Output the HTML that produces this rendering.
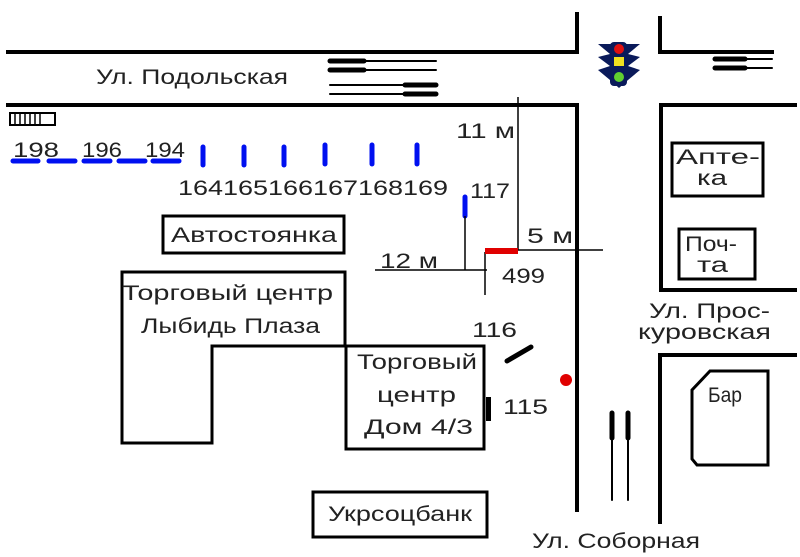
<!DOCTYPE html>
<html><head><meta charset="utf-8"><style>
html,body{margin:0;padding:0;background:#fff;}
svg{display:block;}
text{font-family:"Liberation Sans",sans-serif;fill:#222;font-size:21px;}
</style></head><body>
<svg width="800" height="557" viewBox="0 0 800 557" xmlns="http://www.w3.org/2000/svg">
<g stroke="#000" stroke-width="4" fill="none" stroke-linecap="square">
<polyline points="8,52 577,52 577,14"/>
<polyline points="660,18 660,52 772,52"/>
<polyline points="8,105 577,105 577,510"/>
<polyline points="795,105 661,105 661,290 795,290"/>
<polyline points="795,355 660,355 660,522"/>
<rect x="163" y="216" width="181" height="37" stroke-width="3"/>
<polygon points="122,272 345,272 345,346 212,346 212,443 122,443" stroke-width="3"/>
<rect x="346" y="346" width="138" height="103" stroke-width="3"/>
<rect x="313" y="492" width="174" height="45" stroke-width="3"/>
<rect x="672" y="143" width="91" height="53" stroke-width="3"/>
<rect x="679" y="229" width="76" height="50" stroke-width="3"/>
<polygon points="710,371 768,371 768,465 697,465 692,459 692,390" stroke-width="3"/>
</g>
<g stroke="#000" stroke-linecap="round">
<line x1="330" y1="61" x2="436" y2="61" stroke-width="2"/>
<line x1="330" y1="70" x2="436" y2="70" stroke-width="2"/>
<line x1="330" y1="61" x2="364" y2="61" stroke-width="5"/>
<line x1="330" y1="70" x2="364" y2="70" stroke-width="5"/>
<line x1="330" y1="85" x2="436" y2="85" stroke-width="2"/>
<line x1="330" y1="94" x2="436" y2="94" stroke-width="2"/>
<line x1="405" y1="85" x2="436" y2="85" stroke-width="5"/>
<line x1="405" y1="94" x2="436" y2="94" stroke-width="5"/>
<line x1="715" y1="59" x2="772" y2="59" stroke-width="2"/>
<line x1="715" y1="68" x2="772" y2="68" stroke-width="2"/>
<line x1="715" y1="59" x2="745" y2="59" stroke-width="5"/>
<line x1="715" y1="68" x2="745" y2="68" stroke-width="5"/>
<line x1="612" y1="412" x2="612" y2="500" stroke-width="2"/>
<line x1="628" y1="412" x2="628" y2="500" stroke-width="2"/>
<line x1="612" y1="413" x2="612" y2="438" stroke-width="5"/>
<line x1="628" y1="413" x2="628" y2="438" stroke-width="5"/>
</g>
<g>
<polygon points="598,44 640,44 628,54 640,57 628,66 640,70 628,80 619,88 610,80 598,70 610,66 598,57 610,54" fill="#0a1a5a"/>
<rect x="610" y="42" width="17" height="44" rx="4" fill="#0a1a5a"/>
<circle cx="619" cy="49" r="5" fill="#e01010"/>
<rect x="614" y="57" width="10" height="9" fill="#f0e020"/>
<circle cx="619" cy="77" r="5" fill="#60d030"/>
</g>
<rect x="10" y="113" width="45" height="12" fill="#fff" stroke="#000" stroke-width="2"/>
<g stroke="#000" stroke-width="1.5"><line x1="15" y1="114" x2="15" y2="124"/><line x1="20" y1="114" x2="20" y2="124"/><line x1="25" y1="114" x2="25" y2="124"/><line x1="30" y1="114" x2="30" y2="124"/><line x1="35" y1="114" x2="35" y2="124"/><line x1="40" y1="114" x2="40" y2="124"/></g>
<g stroke="#0010f0" stroke-width="5" stroke-linecap="round">
<line x1="13" y1="161" x2="38" y2="161"/><line x1="49" y1="161" x2="75" y2="161"/><line x1="84" y1="161" x2="110" y2="161"/><line x1="119" y1="161" x2="145" y2="161"/><line x1="153" y1="161" x2="179" y2="161"/>
<line x1="203" y1="147" x2="203" y2="165"/><line x1="244" y1="147" x2="244" y2="165"/><line x1="284" y1="147" x2="284" y2="165"/><line x1="325" y1="145" x2="325" y2="164"/><line x1="372" y1="145" x2="372" y2="164"/><line x1="417" y1="145" x2="417" y2="164"/>
<line x1="465" y1="197" x2="465" y2="216"/>
</g>
<g stroke="#000" stroke-width="1.5" fill="none">
<line x1="518" y1="97" x2="518" y2="250"/>
<line x1="518" y1="250" x2="603" y2="250"/>
<line x1="465" y1="216" x2="465" y2="270"/>
<line x1="375" y1="270" x2="487" y2="270"/>
<line x1="485" y1="252" x2="485" y2="295"/>
</g>
<line x1="485" y1="251" x2="518" y2="251" stroke="#e00000" stroke-width="6"/>
<line x1="507" y1="361" x2="531" y2="347" stroke="#000" stroke-width="5" stroke-linecap="round"/>
<rect x="486" y="397" width="5" height="24" fill="#000"/>
<circle cx="566" cy="380" r="6" fill="#e00000"/>
<g lengthAdjust="spacingAndGlyphs">
<text x="96" y="84" textLength="192" lengthAdjust="spacingAndGlyphs">Ул. Подольская</text>
<text x="13" y="157" textLength="46" lengthAdjust="spacingAndGlyphs">198</text>
<text x="82" y="157" textLength="40" lengthAdjust="spacingAndGlyphs">196</text>
<text x="145" y="157" textLength="40" lengthAdjust="spacingAndGlyphs">194</text>
<text x="178" y="195" textLength="270" lengthAdjust="spacingAndGlyphs">164165166167168169</text>
<text x="470" y="198" textLength="40" lengthAdjust="spacingAndGlyphs">117</text>
<text x="456" y="138" textLength="59" lengthAdjust="spacingAndGlyphs">11 м</text>
<text x="527" y="243" textLength="46" lengthAdjust="spacingAndGlyphs">5 м</text>
<text x="380" y="268" textLength="58" lengthAdjust="spacingAndGlyphs">12 м</text>
<text x="502" y="283" textLength="43" lengthAdjust="spacingAndGlyphs">499</text>
<text x="171" y="242" textLength="166" lengthAdjust="spacingAndGlyphs">Автостоянка</text>
<text x="122" y="300" textLength="211" lengthAdjust="spacingAndGlyphs">Торговый центр</text>
<text x="141" y="333" textLength="179" lengthAdjust="spacingAndGlyphs">Лыбидь Плаза</text>
<text x="357" y="369" textLength="120" lengthAdjust="spacingAndGlyphs">Торговый</text>
<text x="377" y="402" textLength="79" lengthAdjust="spacingAndGlyphs">центр</text>
<text x="364" y="434" textLength="109" lengthAdjust="spacingAndGlyphs">Дом 4/3</text>
<text x="472" y="337" textLength="45" lengthAdjust="spacingAndGlyphs">116</text>
<text x="503" y="414" textLength="45" lengthAdjust="spacingAndGlyphs">115</text>
<text x="328" y="521" textLength="144" lengthAdjust="spacingAndGlyphs">Укрсоцбанк</text>
<text x="532" y="548" textLength="168" lengthAdjust="spacingAndGlyphs">Ул. Соборная</text>
<text x="676" y="164" textLength="84" lengthAdjust="spacingAndGlyphs">Апте-</text>
<text x="697" y="185" textLength="30" lengthAdjust="spacingAndGlyphs">ка</text>
<text x="685" y="251" textLength="52" lengthAdjust="spacingAndGlyphs">Поч-</text>
<text x="697" y="272" textLength="31" lengthAdjust="spacingAndGlyphs">та</text>
<text x="649" y="318" textLength="121" lengthAdjust="spacingAndGlyphs">Ул. Прос-</text>
<text x="638" y="339" textLength="133" lengthAdjust="spacingAndGlyphs">куровская</text>
<text x="708" y="402" textLength="34" lengthAdjust="spacingAndGlyphs">Бар</text>
</g>
</svg>
</body></html>
